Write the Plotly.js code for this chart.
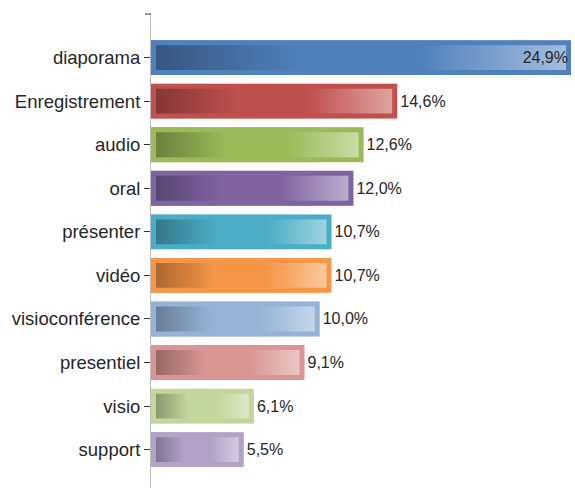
<!DOCTYPE html>
<html>
<head>
<meta charset="utf-8">
<script src="https://cdn.plot.ly/plotly-3.0.1.min.js"></script>
<style>html,body{margin:0;padding:0;background:#fff;}#chart{width:575px;height:488px;}</style>
</head>
<body>
<div id="chart"></div>
<script>
const categories = ['diaporama','Enregistrement','audio','oral','présenter','vidéo','visioconférence','presentiel','visio','support'];
const values = [24.9, 14.6, 12.6, 12.0, 10.7, 10.7, 10.0, 9.1, 6.1, 5.5];
const labels = values.map(v => v.toFixed(1).replace('.', ',') + '%');
const colors = ['#4F81BD','#C0504D','#9BBB59','#8064A2','#4BACC6','#F79646','#95B3D7','#D99694','#C3D69B','#B3A2C7'];

const maxVal = Math.max(...values);
const positions = values.map(v => v === maxVal ? 'inside' : 'outside');

function mix(hex, target, t) {
  const n = parseInt(hex.slice(1), 16);
  const r = (n >> 16) & 255, g = (n >> 8) & 255, b = n & 255;
  const f = c => Math.round(c + (target - c) * t);
  return 'rgb(' + f(r) + ',' + f(g) + ',' + f(b) + ')';
}

const labelFont = {family: 'Liberation Sans, Arial, sans-serif', size: 16, color: '#262626'};
const trace = {
  type: 'bar',
  orientation: 'h',
  y: categories,
  x: values,
  text: labels,
  textposition: positions,
  insidetextanchor: 'end',
  textfont: labelFont,
  insidetextfont: labelFont,
  outsidetextfont: labelFont,
  cliponaxis: false,
  marker: {color: colors, line: {color: colors, width: 10}},
  hoverinfo: 'none'
};

const layout = {
  width: 575, height: 488,
  margin: {l: 151, r: 4, t: 14, b: 0, pad: 0},
  paper_bgcolor: '#ffffff', plot_bgcolor: '#ffffff',
  showlegend: false,
  bargap: 0.2,
  font: {family: 'Liberation Sans, Arial, sans-serif', color: '#262626'},
  xaxis: {visible: false, range: [0, 24.9], fixedrange: true, automargin: false},
  yaxis: {
    type: 'category', categoryorder: 'array', categoryarray: categories,
    range: [9.88, -1], automargin: false,
    showline: true, linecolor: '#bdbdbd', linewidth: 1,
    ticks: 'outside', ticklen: 6, tickcolor: '#333333', tickwidth: 1,
    ticklabelstandoff: 0,
    tickfont: {family: 'Liberation Sans, Arial, sans-serif', size: 18.5, color: '#262626'},
    showgrid: false, zeroline: false
  },
  shapes: [{
    type: 'line', xref: 'paper', yref: 'paper', xsizemode: 'pixel', xanchor: 0,
    x0: -6, x1: 0, y0: 1, y1: 1, line: {color: '#333333', width: 1}
  }]
};

Plotly.newPlot('chart', [trace], layout, {staticPlot: true}).then(gd => {
  const svg = gd.querySelector('.main-svg');
  const defs = svg.querySelector('defs');
  const NS = 'http://www.w3.org/2000/svg';
  const paths = gd.querySelectorAll('.trace.bars .point path');
  paths.forEach((p, i) => {
    const c = colors[i];
    const lg = document.createElementNS(NS, 'linearGradient');
    lg.setAttribute('id', 'bargrad' + i);
    lg.setAttribute('x1', '0'); lg.setAttribute('y1', '0');
    lg.setAttribute('x2', '1'); lg.setAttribute('y2', '0');
    [[0, mix(c, 0, 0.33)], [0.36, c], [0.64, c], [1, mix(c, 255, 0.5)]].forEach(([o, col]) => {
      const s = document.createElementNS(NS, 'stop');
      s.setAttribute('offset', o);
      s.setAttribute('stop-color', col);
      lg.appendChild(s);
    });
    defs.appendChild(lg);
    const cp = document.createElementNS(NS, 'clipPath');
    cp.setAttribute('id', 'barclip' + i);
    const cpp = document.createElementNS(NS, 'path');
    cpp.setAttribute('d', p.getAttribute('d'));
    cp.appendChild(cpp);
    defs.appendChild(cp);
    p.style.fill = 'url(#bargrad' + i + ')';
    p.style.fillOpacity = 1;
    p.setAttribute('clip-path', 'url(#barclip' + i + ')');
  });
});
</script>
</body>
</html>
